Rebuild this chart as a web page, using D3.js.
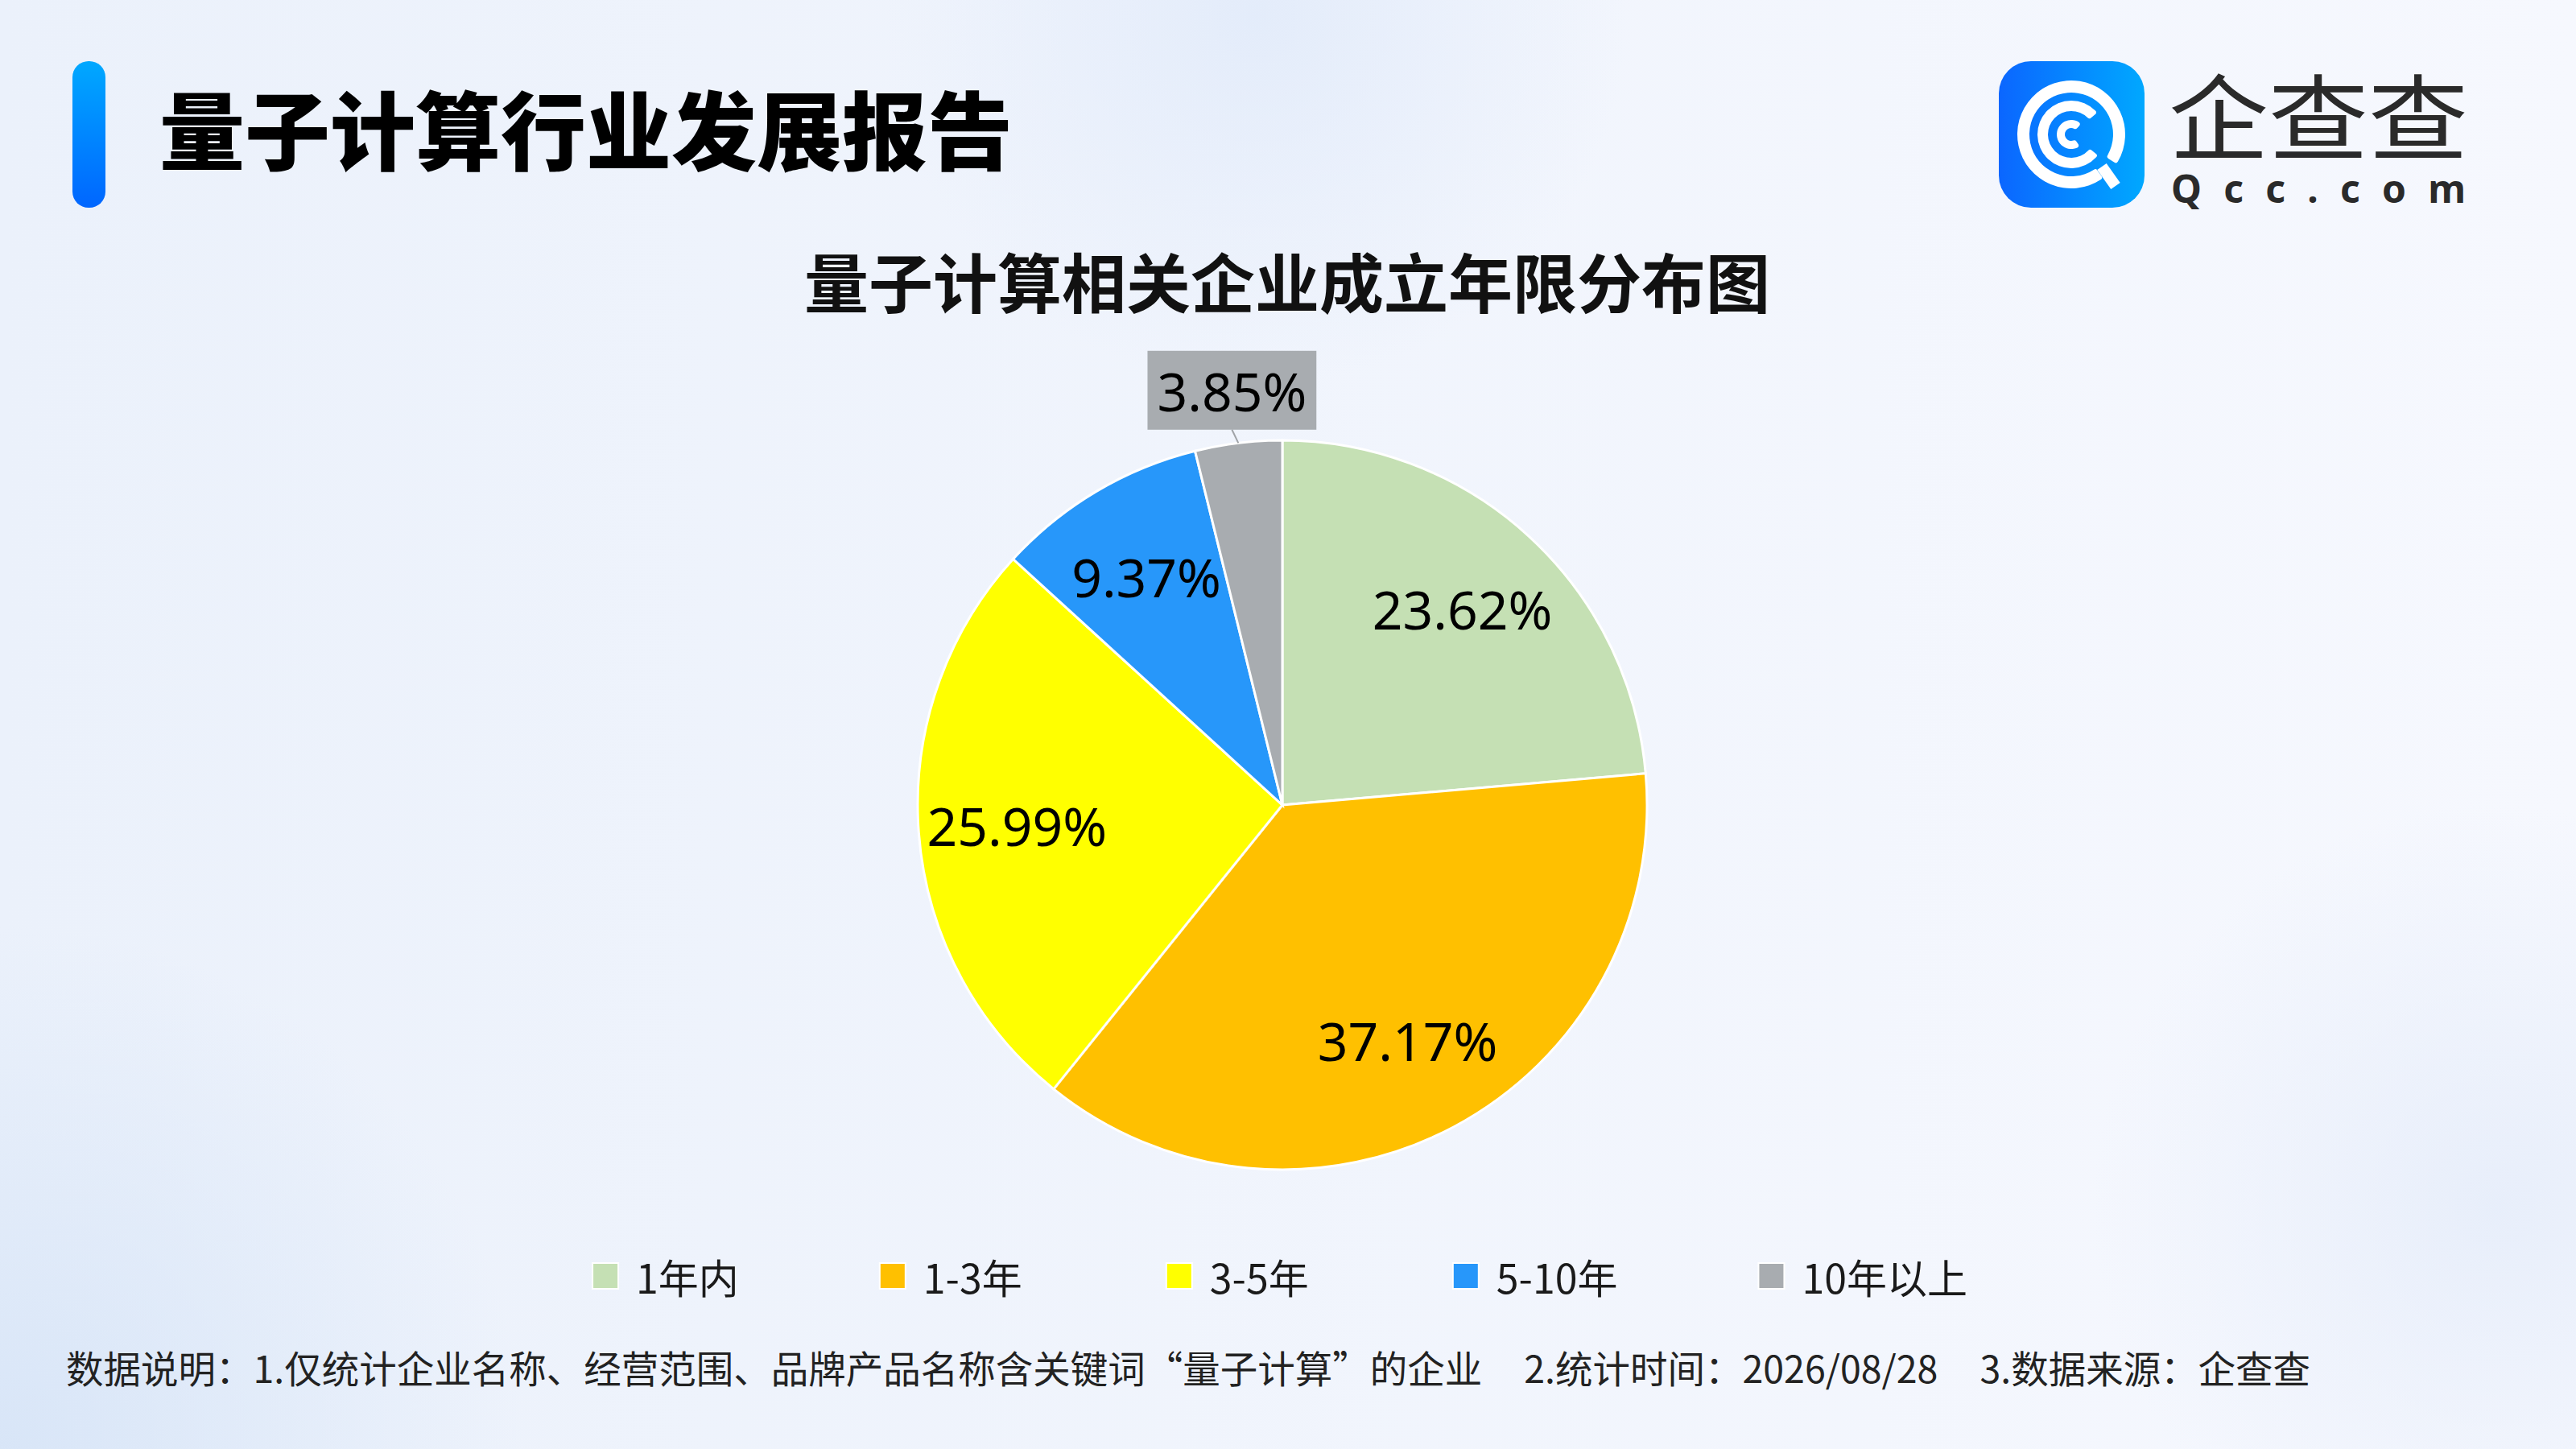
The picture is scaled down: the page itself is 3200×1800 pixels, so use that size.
<!DOCTYPE html>
<html>
<head>
<meta charset="utf-8">
<script src="https://cdn.jsdelivr.net/npm/d3@7"></script>
<style>
    html, body { margin: 0; padding: 0; background: #f1f5fd; }
    svg { display: block; }
</style>
</head>
<body>
<div id="chart"></div>
<script>
// Chart data
const categories = ["1年内", "1-3年", "3-5年", "5-10年", "10年以上"];
const shares = [23.62, 37.17, 25.99, 9.37, 3.85];
const sliceColors = ["#c5e0b4", "#ffc000", "#ffff00", "#2797fa", "#a8acb0"];

// Texts
const reportTitle = "量子计算行业发展报告";
const chartTitle = "量子计算相关企业成立年限分布图";
const footNotes = [
    "数据说明：1.仅统计企业名称、经营范围、品牌产品名称含关键词“量子计算”的企业",
    "2.统计时间：2026/08/28",
    "3.数据来源：企查查"
];
const brandName = "企查查";
const brandSite = "Qcc.com";

const width = 3200;
const height = 1800;
const cjk = "'Noto Sans CJK SC', sans-serif";
const latin = "'Noto Sans', 'Noto Sans CJK SC', sans-serif";

const svg = d3.select("#chart")
    .append("svg")
    .attr("width", width)
    .attr("height", height);

const defs = svg.append("defs");

// Background gradients
const bg = defs.append("linearGradient").attr("id", "bg").attr("x1", 0).attr("y1", 0).attr("x2", 1).attr("y2", 0);
bg.append("stop").attr("offset", "0%").attr("stop-color", "#ebf1fb");
bg.append("stop").attr("offset", "100%").attr("stop-color", "#f6f8fe");

function blob(id, color) {
    const g = defs.append("radialGradient").attr("id", id);
    g.append("stop").attr("offset", "0%").attr("stop-color", color).attr("stop-opacity", 0.9);
    g.append("stop").attr("offset", "100%").attr("stop-color", color).attr("stop-opacity", 0);
}
blob("blobTop", "#e2ebfa");
blob("blobLeft", "#d6e4f7");
blob("blobRight", "#e6edfa");

svg.append("rect").attr("width", width).attr("height", height).attr("fill", "url(#bg)");
svg.append("circle").attr("cx", 1560).attr("cy", 20).attr("r", 460).attr("fill", "url(#blobTop)");
svg.append("circle").attr("cx", 0).attr("cy", 1800).attr("r", 650).attr("fill", "url(#blobLeft)");
svg.append("circle").attr("cx", 3100).attr("cy", 1500).attr("r", 500).attr("fill", "url(#blobRight)");

// Header bar + report title
const barGrad = defs.append("linearGradient").attr("id", "barGrad").attr("x1", 0).attr("y1", 0).attr("x2", 0).attr("y2", 1);
barGrad.append("stop").attr("offset", "0%").attr("stop-color", "#00a8ff");
barGrad.append("stop").attr("offset", "100%").attr("stop-color", "#0066ff");

svg.append("rect")
    .attr("x", 90).attr("y", 76)
    .attr("width", 41).attr("height", 182)
    .attr("rx", 20)
    .attr("fill", "url(#barGrad)");

svg.append("text")
    .attr("x", 198).attr("y", 157)
    .attr("dominant-baseline", "central")
    .style("font-family", cjk)
    .style("font-size", "106px")
    .style("font-weight", 900)
    .attr("fill", "#000")
    .text(reportTitle);

// Logo
const logoGrad = defs.append("linearGradient").attr("id", "logoGrad").attr("x1", 0).attr("y1", 0).attr("x2", 1).attr("y2", 0);
logoGrad.append("stop").attr("offset", "0%").attr("stop-color", "#0b66ff");
logoGrad.append("stop").attr("offset", "100%").attr("stop-color", "#00a8ff");

const logo = svg.append("g").attr("transform", "translate(2573,167)");
logo.append("rect")
    .attr("x", -90).attr("y", -91)
    .attr("width", 181).attr("height", 182)
    .attr("rx", 40)
    .attr("fill", "url(#logoGrad)");

const deg = Math.PI / 180;
const rings = [
    { inner: 52, outer: 67, start: 144, end: 483 },
    { inner: 29, outer: 42, start: 128, end: 410 },
    { inner: 8, outer: 18, start: 144, end: 403 }
];
logo.selectAll("path.ring")
    .data(rings)
    .join("path")
    .attr("class", "ring")
    .attr("d", d => d3.arc().cornerRadius(3)({
        innerRadius: d.inner, outerRadius: d.outer,
        startAngle: d.start * deg, endAngle: d.end * deg
    }))
    .attr("fill", "#fff");

logo.append("line")
    .attr("x1", 38).attr("y1", 40)
    .attr("x2", 55).attr("y2", 64)
    .attr("stroke", "#fff")
    .attr("stroke-width", 14);

svg.append("text")
    .attr("x", 2694).attr("y", 139)
    .attr("dominant-baseline", "central")
    .attr("textLength", 372)
    .attr("lengthAdjust", "spacingAndGlyphs")
    .style("font-family", cjk)
    .style("font-size", "116px")
    .style("font-weight", 400)
    .attr("fill", "#2a2a2a")
    .text(brandName);

svg.append("text")
    .attr("x", 2697).attr("y", 233)
    .attr("dominant-baseline", "central")
    .attr("textLength", 366)
    .attr("lengthAdjust", "spacing")
    .style("font-family", latin)
    .style("font-size", "48px")
    .style("font-weight", 700)
    .attr("fill", "#2a2a2a")
    .text(brandSite);

// Chart title
svg.append("text")
    .attr("x", 1599).attr("y", 347)
    .attr("text-anchor", "middle")
    .attr("dominant-baseline", "central")
    .style("font-family", cjk)
    .style("font-size", "80px")
    .style("font-weight", 700)
    .attr("fill", "#111")
    .text(chartTitle);

// Pie
const cx = 1593, cy = 1000, radius = 453;
const pieData = categories.map((c, i) => ({ name: c, value: shares[i], color: sliceColors[i] }));

const pie = d3.pie().sort(null).value(d => d.value);
const arcs = pie(pieData);

const arc = d3.arc().innerRadius(0).outerRadius(radius);
const labelArc = d3.arc().innerRadius(radius * 0.73).outerRadius(radius * 0.73);
const edgeArc = d3.arc().innerRadius(radius).outerRadius(radius);
const outsideArc = d3.arc().innerRadius(radius + 66).outerRadius(radius + 66);

const pieG = svg.append("g").attr("transform", `translate(${cx},${cy})`);

pieG.selectAll("path.slice")
    .data(arcs)
    .join("path")
    .attr("class", "slice")
    .attr("d", arc)
    .attr("fill", d => d.data.color)
    .attr("stroke", "#fff")
    .attr("stroke-width", 3);

const fmt = v => v.toFixed(2) + "%";
const labelFont = "66px";

// Inside labels for the larger slices
pieG.selectAll("text.inside")
    .data(arcs.filter(d => d.data.value >= 5))
    .join("text")
    .attr("class", "inside")
    .attr("transform", d => `translate(${labelArc.centroid(d)})`)
    .attr("text-anchor", "middle")
    .attr("dominant-baseline", "central")
    .style("font-family", latin)
    .style("font-size", labelFont)
    .attr("fill", "#000")
    .text(d => fmt(d.data.value));

// Outside boxed label for small slices
const small = arcs.filter(d => d.data.value < 5);
small.forEach(d => {
    const [bx, by] = outsideArc.centroid(d);
    const [ex, ey] = edgeArc.centroid(d);
    const g = pieG.append("g");
    const t = g.append("text")
        .attr("x", bx).attr("y", by)
        .attr("text-anchor", "middle")
        .attr("dominant-baseline", "central")
        .style("font-family", latin)
        .style("font-size", labelFont)
        .attr("fill", "#000")
        .text(fmt(d.data.value));
    const w = t.node().getComputedTextLength() + 24;
    const h = 98;
    g.insert("rect", "text")
        .attr("x", bx - w / 2).attr("y", by - h / 2)
        .attr("width", w).attr("height", h)
        .attr("fill", d.data.color);
    g.append("line")
        .attr("x1", bx).attr("y1", by + h / 2)
        .attr("x2", ex).attr("y2", ey)
        .attr("stroke", "#a0a3a7")
        .attr("stroke-width", 2);
});

// Legend
const legendY = 1585;
const swatch = 32;
const legendG = svg.append("g");
const items = legendG.selectAll("g")
    .data(pieData)
    .join("g");

items.append("rect")
    .attr("y", legendY - swatch / 2)
    .attr("width", swatch).attr("height", swatch)
    .attr("fill", d => d.color)
    .attr("stroke", "#fff")
    .attr("stroke-width", 2);

items.append("text")
    .attr("x", swatch + 22)
    .attr("y", legendY)
    .attr("dominant-baseline", "central")
    .style("font-family", cjk)
    .style("font-size", "50px")
    .attr("fill", "#1a1a1a")
    .text(d => d.name);

// Position entries by their text width
let pos = 0;
const offsets = [];
items.each(function () {
    const tw = d3.select(this).select("text").node().getComputedTextLength();
    offsets.push(pos);
    pos += swatch + 22 + Math.max(tw, 127) + 175;
});
const lastW = items.filter((d, i) => i === pieData.length - 1).select("text").node().getComputedTextLength();
const totalW = offsets[offsets.length - 1] + swatch + 22 + lastW;
const startX = 1590 - totalW / 2;
items.attr("transform", (d, i) => `translate(${startX + offsets[i]},0)`);

// Footnote, three parts separated by a gap
const foot = svg.append("text")
    .attr("x", 82).attr("y", 1697)
    .attr("dominant-baseline", "central")
    .style("font-family", cjk)
    .style("font-size", "46.5px")
    .attr("fill", "#222");

foot.selectAll("tspan")
    .data(footNotes)
    .join("tspan")
    .attr("dx", (d, i) => i === 0 ? 0 : 52)
    .text(d => d);
</script>
</body>
</html>
